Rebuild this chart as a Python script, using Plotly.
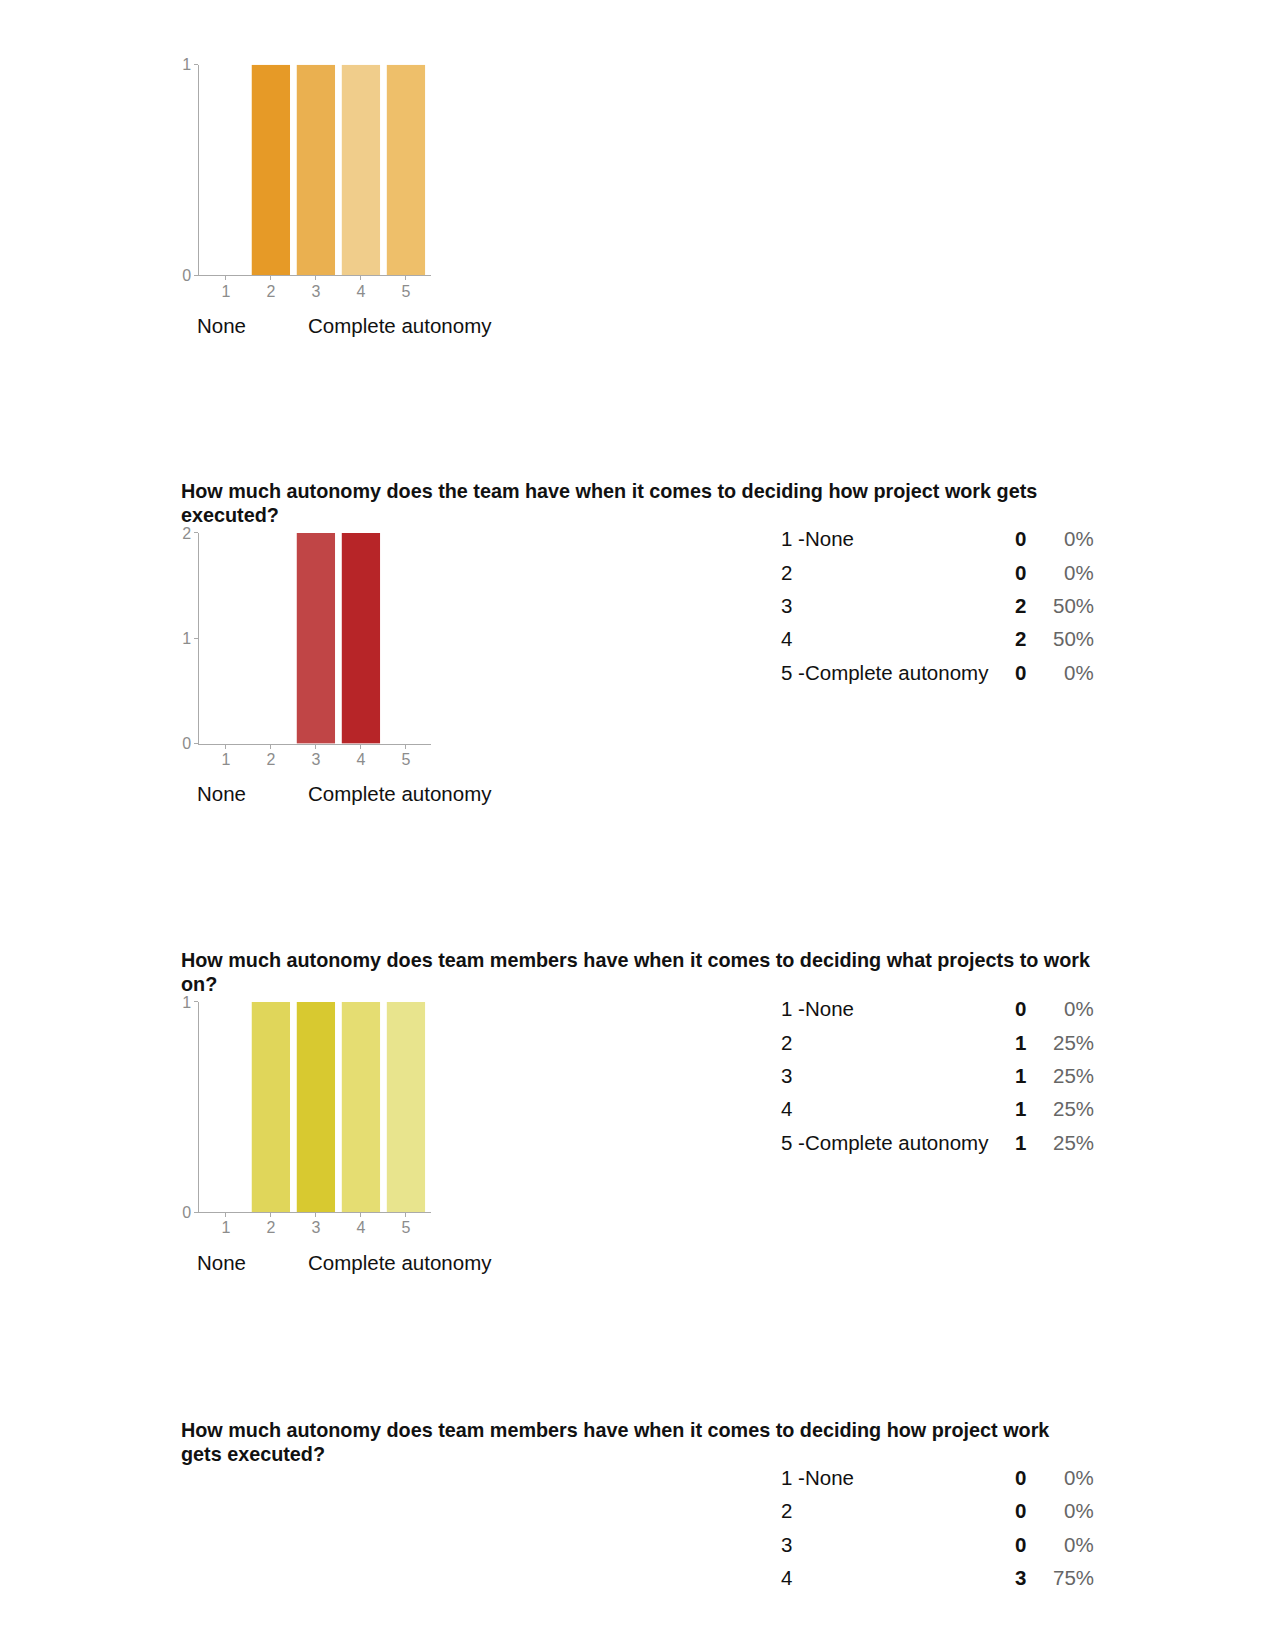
import plotly.graph_objects as go

W, H = 1275, 1650

# ---------------- data ----------------
scale_points = [1, 2, 3, 4, 5]
scale_tick_labels = ["1", "2", "3", "4", "5"]
low_label = "None"
high_label = "Complete autonomy"
row_labels = ["1 -None", "2", "3", "4", "5 -Complete autonomy"]

q1_counts = [0, 1, 1, 1, 1]
q1_colors = ["#E69A27", "#E69A27", "#EAB050", "#F0CD8B", "#EEBF6A"]

q2_title = ["How much autonomy does the team have when it comes to deciding how project work gets",
            "executed?"]
q2_counts = [0, 0, 2, 2, 0]
q2_pcts = ["0%", "0%", "50%", "50%", "0%"]
q2_colors = ["#C04546", "#C04546", "#C04546", "#B72528", "#B72528"]

q3_title = ["How much autonomy does team members have when it comes to deciding what projects to work",
            "on?"]
q3_counts = [0, 1, 1, 1, 1]
q3_pcts = ["0%", "25%", "25%", "25%", "25%"]
q3_colors = ["#E0D65A", "#E0D65A", "#D8C930", "#E5DD72", "#E8E48D"]

q4_title = ["How much autonomy does team members have when it comes to deciding how project work",
            "gets executed?"]
q4_counts = [0, 0, 0, 3]
q4_pcts = ["0%", "0%", "0%", "75%"]
q4_rows = row_labels[:4]

FONT = "Liberation Sans, Arial, sans-serif"


def px(x):
    return x / W


def py(y):
    # compensate for the vertical offset/compression observed in the rendered page
    ys = (y - 8.3) / 0.9898
    return 1 - ys / H


fig = go.Figure()
annotations = []

charts = [
    # (counts, colors, ytop, ybottom, ymax)
    (q1_counts, q1_colors, 65.0, 275.7, 1),
    (q2_counts, q2_colors, 533.3, 744.0, 2),
    (q3_counts, q3_colors, 1002.3, 1212.7, 1),
]
X_LEFT, X_RIGHT = 199.3, 430.7

layout_axes = {}
for i, (counts, colors, ytop, ybot, ymax) in enumerate(charts):
    n = "" if i == 0 else str(i + 1)
    fig.add_trace(go.Bar(
        x=scale_points, y=counts, marker=dict(color=colors, line=dict(width=0)),
        width=0.85, xaxis="x" + n, yaxis="y" + n, showlegend=False, hoverinfo="skip"))
    layout_axes["xaxis" + n] = dict(
        domain=[px(X_LEFT), px(X_RIGHT)], anchor="y" + n, range=[0.41, 5.55],
        tickmode="array", tickvals=scale_points, ticktext=scale_tick_labels,
        showline=True, linecolor="#AAAAAA", linewidth=1, showgrid=False, zeroline=False,
        ticks="outside", ticklen=4, tickcolor="#AAAAAA", ticklabelstandoff=-3,
        tickfont=dict(family=FONT, size=16, color="#8C8C8C"), fixedrange=True)
    layout_axes["yaxis" + n] = dict(
        domain=[py(ybot), py(ytop)], anchor="x" + n, range=[0, ymax],
        tickmode="array", tickvals=list(range(ymax + 1)),
        showline=True, linecolor="#AAAAAA", linewidth=1, showgrid=False, zeroline=False,
        ticks="outside", ticklen=4, tickcolor="#AAAAAA",
        tickfont=dict(family=FONT, size=16, color="#8C8C8C"), fixedrange=True)
    label_y = ybot + 50
    annotations.append(dict(x=px(195.0), y=py(label_y), xref="paper", yref="paper",
                            text=low_label, showarrow=False, xanchor="left", yanchor="middle",
                            font=dict(family=FONT, size=20.5, color="#111111")))
    annotations.append(dict(x=px(305.5), y=py(label_y), xref="paper", yref="paper",
                            text=high_label, showarrow=False, xanchor="left", yanchor="middle",
                            font=dict(family=FONT, size=20.5, color="#111111")))


def add_title(lines, y1):
    for k, line in enumerate(lines):
        annotations.append(dict(x=px(179), y=py(y1 + k * 23.3), xref="paper", yref="paper",
                                text="<b>" + line + "</b>", showarrow=False,
                                xanchor="left", yanchor="middle",
                                font=dict(family=FONT, size=19.8, color="#111111")))


def add_table(labels, counts, pcts, y1):
    for k, (lab, c, p) in enumerate(zip(labels, counts, pcts)):
        yy = py(y1 + k * 33.33)
        annotations.append(dict(x=px(779.3), y=yy, xref="paper", yref="paper", text=lab,
                                showarrow=False, xanchor="left", yanchor="middle",
                                font=dict(family=FONT, size=20.5, color="#111111")))
        annotations.append(dict(x=px(1020), y=yy, xref="paper", yref="paper",
                                text="<b>" + str(c) + "</b>", showarrow=False,
                                xanchor="center", yanchor="middle",
                                font=dict(family=FONT, size=20.5, color="#111111")))
        annotations.append(dict(x=px(1096), y=yy, xref="paper", yref="paper", text=p,
                                showarrow=False, xanchor="right", yanchor="middle",
                                font=dict(family=FONT, size=20.5, color="#666666")))


add_title(q2_title, 491.7)
add_table(row_labels, q2_counts, q2_pcts, 539.3)
add_title(q3_title, 960.7)
add_table(row_labels, q3_counts, q3_pcts, 1009.3)
add_title(q4_title, 1430.9)
add_table(q4_rows, q4_counts, q4_pcts, 1478.0)

fig.update_layout(
    width=W, height=H, margin=dict(l=0, r=0, t=0, b=0),
    paper_bgcolor="white", plot_bgcolor="white",
    annotations=annotations, bargap=0.15, **layout_axes)

fig.write_html("out.html", config={"displayModeBar": False})
